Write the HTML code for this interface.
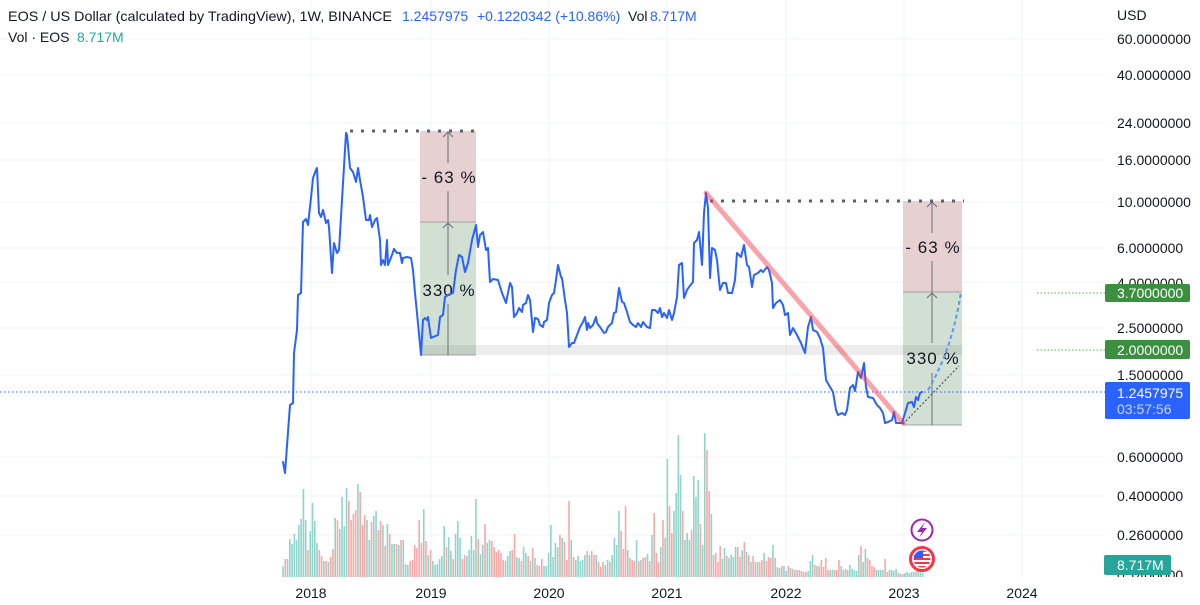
<!DOCTYPE html>
<html><head><meta charset="utf-8"><style>
html,body{margin:0;padding:0;background:#fff;width:1200px;height:605px;overflow:hidden}
svg{display:block;font-family:"Liberation Sans",Arial,sans-serif}
</style></head><body>
<svg width="1200" height="605" viewBox="0 0 1200 605" xmlns="http://www.w3.org/2000/svg">
<defs>
<clipPath id="ax"><rect x="1100" y="0" width="100" height="577"/></clipPath>
<clipPath id="fl"><circle cx="922" cy="559" r="8.5"/></clipPath>
</defs>
<rect width="1200" height="605" fill="#fff"/>
<!-- grid -->
<g stroke="#f2f3f6" stroke-width="1">
<line x1="311" y1="0" x2="311" y2="577"/><line x1="431" y1="0" x2="431" y2="577"/><line x1="549" y1="0" x2="549" y2="577"/><line x1="667" y1="0" x2="667" y2="577"/><line x1="786" y1="0" x2="786" y2="577"/><line x1="904" y1="0" x2="904" y2="577"/><line x1="1022" y1="0" x2="1022" y2="577"/>
<line x1="0" y1="39" x2="1105" y2="39"/><line x1="0" y1="75" x2="1105" y2="75"/><line x1="0" y1="123" x2="1105" y2="123"/><line x1="0" y1="160" x2="1105" y2="160"/><line x1="0" y1="202" x2="1105" y2="202"/><line x1="0" y1="248" x2="1105" y2="248"/><line x1="0" y1="282" x2="1105" y2="282"/><line x1="0" y1="328" x2="1105" y2="328"/><line x1="0" y1="375" x2="1105" y2="375"/><line x1="0" y1="457" x2="1105" y2="457"/><line x1="0" y1="496" x2="1105" y2="496"/><line x1="0" y1="535" x2="1105" y2="535"/>
</g>
<!-- volume -->
<path fill="none" stroke="#8fd4ca" stroke-width="1.6" d="M283,577v-11m2.27,11m2.27,0v-18m2.27,18v-38m2.27,38v-33m2.27,33v-43m2.27,43v-37m2.27,37v-52m2.27,52v-58m2.27,58v-88m2.27,88v-57m2.27,57m2.27,0v-46m2.27,46v-74m2.27,74v-56m2.27,56v-34m2.27,34m2.27,0m2.27,0v-16m2.27,16m2.27,0v-15m2.27,15m2.27,0m2.27,0v-59m2.27,59m2.27,0v-48m2.27,48v-80m2.27,80v-51m2.27,51v-89m2.27,89m9.08,0v-93m2.27,93m6.81,0v-57m2.27,57v-37m2.27,37m2.27,0v-61m2.27,61v-66m2.27,66m4.54,0v-52m2.27,52m2.27,0v-53m2.27,53m2.27,0v-33m2.27,33v-33m2.27,33m2.27,0v-32m2.27,32m2.27,0v-37m2.27,37v-13m2.27,13v-12m2.27,12m13.62,0v-68m2.27,68m2.27,0v-22m2.27,22m2.27,0v-16m2.27,16v-12m2.27,12v-13m2.27,13v-18m2.27,18v-21m2.27,21v-51m2.27,51m2.27,0v-40m2.27,40v-26m2.27,26m2.27,0v-43m2.27,43v-56m2.27,56v-39m2.27,39m4.54,0v-21m2.27,21v-27m2.27,27v-41m2.27,41v-27m2.27,27v-78m2.27,78m2.27,0v-23m2.27,23v-32m2.27,32m2.27,0v-34m2.27,34v-37m2.27,37m13.62,0v-16m2.27,16v-21m2.27,21v-26m2.27,26m4.54,0v-20m2.27,20v-19m2.27,19m2.27,0v-30m2.27,30v-24m2.27,24m2.27,0v-16m2.27,16m2.27,0v-19m2.27,19m6.81,0v-11m2.27,11v-11m2.27,11v-24m2.27,24v-52m2.27,52v-20m2.27,20v-34m2.27,34v-30m2.27,30m2.27,0v-39m2.27,39m6.81,0v-37m2.27,37m2.27,0v-17m2.27,17v-21m2.27,21v-16m2.27,16v-17m2.27,17v-22m2.27,22m2.27,0v-22m2.27,22m4.54,0v-22m2.27,22m6.81,0v-12m2.27,12v-17m2.27,17m2.27,0v-22m2.27,22v-39m2.27,39v-32m2.27,32v-66m2.2,66m6.6,0v-27m2.2,27m6.6,0v-37m2.2,37m2.2,0v-17m2.2,17m4.4,0v-23m2.2,23m2.2,0v-42m2.2,42m6.6,0v-30m2.2,30m2.2,0v-39m2.2,39v-118m2.2,118m4.4,0v-66m2.2,66v-84m2.2,84v-142m2.2,142v-102m2.2,102m2.2,0v-37m2.2,37v-44m2.2,44v-37m2.2,37m2.2,0v-101m2.2,101v-80m2.2,80v-97m2.2,97m2.2,0v-32m2.2,32v-144m2.2,144m4.4,0v-63m2.2,63m8.8,0v-18m2.2,18v-29m2.2,29m2.2,0v-19m2.2,19v-22m2.2,22v-20m2.2,20v-30m2.2,30m4.4,0v-27m2.2,27m2.2,0v-25m2.2,25m2.2,0v-15m2.2,15m4.4,0v-15m2.2,15m4.4,0v-24m2.2,24m6.6,0v-32m2.2,32m2.2,0v-10m2.2,10v-9m2.2,9m2.2,0v-11m2.2,11v-6m2.2,6m2.2,0v-9m2.2,9m2.2,0v-7m2.2,7m8.8,0v-5m2.2,5v-6m2.2,6v-16m2.2,16v-22m2.2,22m2.2,0v-11m2.2,11m11,0v-7m2.2,7v-7m2.2,7m6.6,0v-11m2.2,11v-7m2.2,7m2.2,0v-7m2.2,7v-12m2.2,12v-8m2.2,8v-7m2.2,7v-6m2.2,6v-22m2.2,22m2.2,0v-15m2.2,15v-28m2.2,28m8.8,0v-7m2.2,7v-7m2.2,7v-7m2.2,7v-7m2.2,7m4.4,0v-7m2.2,7v-7m2.2,7v-6m2.2,6v-8m2.2,8m4.4,0v-3m2.2,3v-4m2.2,4v-5m2.2,5v-4m2.2,4v-5m2.2,5v-5m2.2,5m2.2,0v-6m2.2,6v-5m2.2,5v-4"/>
<path fill="none" stroke="#f8a8a6" stroke-width="1.6" d="M283,577m2.27,0v-18m2.27,18m20.43,0v-27m2.27,27m9.08,0v-27m2.27,27v-21m2.27,21m2.27,0v-16m2.27,16m2.27,0v-20m2.27,20v-28m2.27,28m2.27,0v-57m2.27,57m9.08,0v-76m2.27,76v-57m2.27,57v-63m2.27,63v-67m2.27,67m2.27,0v-85m2.27,85v-52m2.27,52v-62m2.27,62m4.54,0v-55m2.27,55m4.54,0v-47m2.27,47v-56m2.27,56m2.27,0v-31m2.27,31m2.27,0v-43m2.27,43m4.54,0v-33m2.27,33m2.27,0v-37m2.27,37m6.81,0v-16m2.27,16v-17m2.27,17v-32m2.27,32v-29m2.27,29v-57m2.27,57v-34m2.27,34m2.27,0v-36m2.27,36m2.27,0v-27m2.27,27m13.62,0v-30m2.27,30m4.54,0v-18m2.27,18m6.81,0v-18m2.27,18v-22m2.27,22m11.35,0v-38m2.27,38m4.54,0v-53m2.27,53m4.54,0v-36m2.27,36v-30m2.27,30v-25m2.27,25v-27m2.27,27v-24m2.27,24v-17m2.27,17m6.81,0v-27m2.27,27v-43m2.27,43m4.54,0v-16m2.27,16m4.54,0v-21m2.27,21m2.27,0v-29m2.27,29m2.27,0v-12m2.27,12v-11m2.27,11v-18m2.27,18m15.89,0v-42m2.27,42m2.27,0v-35m2.27,35v-17m2.27,17v-76m2.27,76m2.27,0v-20m2.27,20m11.35,0v-26m2.27,26m2.27,0v-26m2.27,26v-22m2.27,22m2.27,0v-15m2.27,15v-10m2.27,10v-15m2.27,15m4.54,0v-15m2.27,15m6.81,0m2.2,0v-46m2.2,46v-28m2.2,28v-71m2.2,71m2.2,0v-19m2.2,19v-17m2.2,17v-16m2.2,16m2.2,0v-16m2.2,16m2.2,0v-19m2.2,19v-20m2.2,20m2.2,0v-16m2.2,16m2.2,0v-64m2.2,64v-24m2.2,24v-15m2.2,15m2.2,0v-57m2.2,57m4.4,0v-71m2.2,71v-44m2.2,44m8.8,0v-66m2.2,66m6.6,0v-47m2.2,47m6.6,0v-53m2.2,53m4.4,0v-127m2.2,127v-86m2.2,86m2.2,0v-22m2.2,22v-24m2.2,24v-15m2.2,15v-31m2.2,31m4.4,0v-21m2.2,21m8.8,0v-30m2.2,30v-20m2.2,20m2.2,0v-35m2.2,35m2.2,0v-22m2.2,22m2.2,0v-21m2.2,21v-15m2.2,15m2.2,0v-15m2.2,15v-17m2.2,17m2.2,0v-16m2.2,16v-20m2.2,20v-19m2.2,19m2.2,0v-19m2.2,19m4.4,0v-11m2.2,11m4.4,0v-11m2.2,11m2.2,0v-8m2.2,8m2.2,0v-7m2.2,7v-7m2.2,7v-6m2.2,6v-5m2.2,5m8.8,0v-12m2.2,12m2.2,0v-11m2.2,11v-17m2.2,17v-10m2.2,10v-19m2.2,19v-7m2.2,7m4.4,0v-7m2.2,7v-7m2.2,7v-17m2.2,17m4.4,0v-8m2.2,8m13.2,0v-31m2.2,31m4.4,0v-19m2.2,19v-17m2.2,17v-11m2.2,11v-10m2.2,10m8.8,0v-18m2.2,18v-5m2.2,5m8.8,0v-4m2.2,4v-3m2.2,3m13.2,0v-6"/>
<!-- position boxes -->
<rect x="420" y="131" width="56" height="91" fill="#e6d0d2"/>
<rect x="420" y="222" width="56" height="133" fill="#d1e0d3"/>
<rect x="903" y="201" width="59" height="91" fill="#e6d0d2"/>
<rect x="903" y="292" width="59" height="133" fill="#d1e0d3"/>
<rect x="420" y="345" width="542" height="10" fill="#000" fill-opacity="0.07"/>
<g stroke="#8a8d96" stroke-width="0.8">
<line x1="420" y1="222" x2="476" y2="222"/><line x1="420" y1="355" x2="476" y2="355"/>
<line x1="903" y1="292" x2="962" y2="292"/><line x1="903" y1="425" x2="962" y2="425"/>
</g>
<g stroke="#6a6d78" stroke-width="1" fill="none">
<line x1="448" y1="132" x2="448" y2="163"/><line x1="448" y1="191" x2="448" y2="222"/>
<line x1="448" y1="223" x2="448" y2="275"/><line x1="448" y1="304" x2="448" y2="355"/>
<polyline points="443,137 448,132 453,137"/><polyline points="443,228 448,223 453,228"/>
<line x1="932" y1="202" x2="932" y2="233"/><line x1="932" y1="261" x2="932" y2="292"/>
<line x1="932" y1="293" x2="932" y2="343"/><line x1="932" y1="373" x2="932" y2="425"/>
<polyline points="927,207 932,202 937,207"/><polyline points="927,298 932,293 937,298"/>
</g>
<g font-size="17" fill="#131722" text-anchor="middle" letter-spacing="1">
<text x="449" y="183">- 63 %</text><text x="449" y="296">330 %</text>
<text x="933" y="253">- 63 %</text><text x="933" y="364">330 %</text>
</g>
<g stroke="#5d606b" stroke-width="3" stroke-dasharray="3 8">
<line x1="350" y1="131" x2="478" y2="131"/>
<line x1="710" y1="201" x2="964" y2="201"/>
</g>
<!-- price dotted line -->
<line x1="0" y1="392" x2="1105" y2="392" stroke="#2962ff" stroke-width="1" stroke-dasharray="1.5 2.5"/>
<!-- price series -->
<polyline fill="none" stroke="#2962ff" stroke-width="2" stroke-linejoin="round" stroke-linecap="round" points="283,462 285,473 290,405 293,403 294,353 297,330 298,295 301,293 303,222 306,219 308,225 311,198 313,178 316,170 317,168 319,213 321,217 323,210 326,223 328,220 329,227 332,273 334,243 337,253 339,250 342,200 346,133 347,135 350,168 353,172 356,182 358,168 360,180 363,197 366,220 369,220 370,215 372,227 375,220 377,218 380,240 381,265 383,260 385,265 387,240 388,265 392,255 394,249 397,253 400,253 402,263 403,258 407,257 411,258 413,270 415,293 417,313 421,355 423,320 425,318 427,320 428,317 431,338 433,337 438,335 440,317 443,315 445,297 448,295 453,293 456,270 459,255 462,257 465,272 468,263 472,240 476,225 478,247 480,235 483,232 486,250 488,248 490,282 493,279 498,280 502,293 506,303 510,283 512,287 514,317 517,313 519,308 522,312 523,305 526,303 528,295 530,300 533,332 535,318 538,319 540,325 543,327 544,322 547,320 549,303 552,295 554,293 556,280 558,265 561,277 562,278 565,300 567,313 569,347 572,343 574,343 577,335 580,327 583,322 585,317 587,330 588,323 590,328 593,325 596,317 597,323 600,327 604,333 606,332 608,327 612,323 614,313 616,312 619,288 622,302 624,303 627,312 630,322 633,325 636,327 638,323 641,327 643,322 647,327 650,328 652,310 655,310 658,313 660,308 662,317 664,313 667,318 669,310 672,320 674,313 677,297 679,265 682,263 684,298 687,290 689,287 693,282 694,243 697,240 699,232 702,265 704,213 706,193 708,208 710,278 712,248 715,250 717,260 720,290 723,283 726,283 728,293 732,293 735,280 737,253 741,257 744,245 747,265 749,267 752,287 754,275 758,273 761,270 763,272 767,267 769,270 772,283 773,308 776,303 780,300 783,305 785,315 788,313 790,335 793,328 797,335 801,343 805,353 808,327 811,317 813,330 817,332 820,338 823,348 826,380 830,387 833,392 836,410 838,415 842,413 845,415 847,410 850,388 853,385 855,391 858,372 861,378 864,363 866,387 868,397 873,398 877,405 880,408 883,413 885,423 888,422 892,420 894,412 896,423 902,423 905,413 908,403 912,402 914,407 916,397 918,400 920,393 922,392"/>
<!-- trend line -->
<line x1="706" y1="193" x2="903" y2="423" stroke="#f23645" stroke-opacity="0.45" stroke-width="5" stroke-linecap="round"/>
<line x1="903" y1="424" x2="959" y2="366" stroke="#555" stroke-width="1.2" stroke-dasharray="2 2"/>
<path d="M928,390 Q952,350 961,292" fill="none" stroke="#5d95f5" stroke-width="2" stroke-dasharray="4 3"/>
<!-- icons -->
<circle cx="922" cy="530" r="10.5" fill="#fff" stroke="#9c27b0" stroke-width="2"/>
<path d="M925,522 L917,532 L922,532 L919,538 L927,528 L922,528 Z" fill="#9c27b0"/>
<circle cx="922" cy="559" r="11.5" fill="#fff" stroke="#f23645" stroke-width="3"/>
<g clip-path="url(#fl)">
<rect x="912" y="549" width="20" height="20" fill="#fff"/>
<rect x="912" y="550" width="20" height="2" fill="#f23645"/><rect x="912" y="554" width="20" height="2" fill="#f23645"/><rect x="912" y="558" width="20" height="2" fill="#f23645"/><rect x="912" y="562" width="20" height="2" fill="#f23645"/><rect x="912" y="566" width="20" height="2" fill="#f23645"/>
<rect x="912" y="549" width="11" height="9" fill="#2962ff"/>
</g>
<!-- right axis -->
<g font-size="14" fill="#131722">
<text x="1117" y="20">USD</text>
<text x="1117" y="44">60.0000000</text>
<text x="1117" y="80">40.0000000</text>
<text x="1117" y="128">24.0000000</text>
<text x="1117" y="165">16.0000000</text>
<text x="1117" y="207">10.0000000</text>
<text x="1117" y="253">6.0000000</text>
<text x="1117" y="288">4.0000000</text>
<text x="1117" y="333">2.5000000</text>
<text x="1117" y="380">1.5000000</text>
<text x="1117" y="462">0.6000000</text>
<text x="1117" y="501">0.4000000</text>
<text x="1117" y="540">0.2600000</text>
<text x="1117" y="580" clip-path="url(#ax)">0.1400000</text>
</g>
<g stroke="#4caf50" stroke-width="1" stroke-dasharray="1.5 2">
<line x1="1037" y1="293" x2="1105" y2="293"/>
<line x1="1037" y1="350" x2="1105" y2="350"/>
</g>
<rect x="1105" y="284" width="85" height="18" rx="2" fill="#3c8f41"/>
<text x="1117" y="298" font-size="14" fill="#fff">3.7000000</text>
<rect x="1105" y="340" width="85" height="19" rx="2" fill="#3c8f41"/>
<text x="1117" y="355" font-size="14" fill="#fff">2.0000000</text>
<rect x="1105" y="382" width="85" height="37" rx="2" fill="#2962ff"/>
<text x="1117" y="398" font-size="14" fill="#fff">1.2457975</text>
<text x="1117" y="414" font-size="14" fill="#c9d6ff">03:57:56</text>
<rect x="1104" y="555" width="67" height="20" rx="2" fill="#26a69a"/>
<text x="1117" y="570" font-size="14" fill="#fff">8.717M</text>
<!-- x axis -->
<g font-size="14" fill="#131722" text-anchor="middle">
<text x="311" y="598">2018</text><text x="431" y="598">2019</text><text x="549" y="598">2020</text><text x="667" y="598">2021</text><text x="786" y="598">2022</text><text x="904" y="598">2023</text><text x="1022" y="598">2024</text>
</g>
<!-- header -->
<g font-size="14">
<text x="8" y="21" fill="#131722" textLength="384" lengthAdjust="spacingAndGlyphs">EOS / US Dollar (calculated by TradingView), 1W, BINANCE</text>
<text x="402" y="21" fill="#2962ff">1.2457975</text>
<text x="477" y="21" fill="#2962ff">+0.1220342 (+10.86%)</text>
<text x="628" y="21" fill="#131722">Vol</text>
<text x="650" y="21" fill="#2962ff">8.717M</text>
<text x="8" y="42" fill="#131722">Vol · EOS</text>
<text x="77" y="42" fill="#22ab94">8.717M</text>
</g>
</svg>
</body></html>
